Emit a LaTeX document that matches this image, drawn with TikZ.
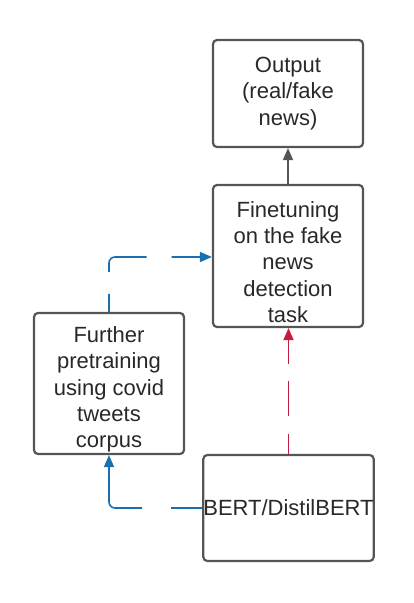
\documentclass[tikz,border=0pt]{standalone}
\usepackage{fontspec}
\setmainfont{Liberation Sans}
\usetikzlibrary{arrows.meta}
\definecolor{boxgray}{RGB}{85,85,85}
\definecolor{textgray}{RGB}{40,40,40}
\definecolor{linkblue}{RGB}{24,112,178}
\definecolor{linkred}{RGB}{196,28,62}
\begin{document}
\begin{tikzpicture}[x=1pt,y=-1pt,
  box/.style={draw=boxgray, line width=2.2pt, rounded corners=4pt, align=center,
    font=\fontsize{22}{26.3}\selectfont, inner sep=0pt, text=textgray},
  boxtext/.style={align=center, font=\fontsize{22}{26.3}\selectfont, inner sep=0pt, text=textgray, yshift=-6pt},
  conn/.style={line width=1.6pt, -{Triangle[length=12pt,width=10pt]}}]
\useasboundingbox (0,0) rectangle (414,603);
\node[box, minimum width=150pt, minimum height=107pt] (out) at (288,93.5) {Output\\(real/fake\\news)};
\node[box, minimum width=150pt, minimum height=142pt,
  label={[boxtext]center:Finetuning\\on the fake\\news\\detection\\task}] (fine) at (288,256) {};
\node[box, minimum width=150pt, minimum height=141pt,
  label={[boxtext]center:Further\\pretraining\\using covid\\tweets\\corpus}] (further) at (109,383.5) {};
\node[box, minimum width=169pt, minimum height=106pt] (bert) at (288.5,508) {BERT/DistilBERT};
\draw[conn, boxgray] (fine.north) -- (out.south);
\draw[conn, linkred, dash pattern=on 20pt off 18pt on 35pt off 17pt on 60pt off 1pt] (bert.north) -- (bert.north |- fine.south);
\draw[conn, linkblue, rounded corners=6pt, dash pattern=on 31pt off 29pt on 200pt off 1pt] (bert.west) -| (further.south);
\draw[conn, linkblue, rounded corners=6pt, dash pattern=on 18pt off 22pt on 50pt off 25pt on 80pt off 1pt] (further.north) |- (fine.west |- 0,257);
\end{tikzpicture}
\end{document}
